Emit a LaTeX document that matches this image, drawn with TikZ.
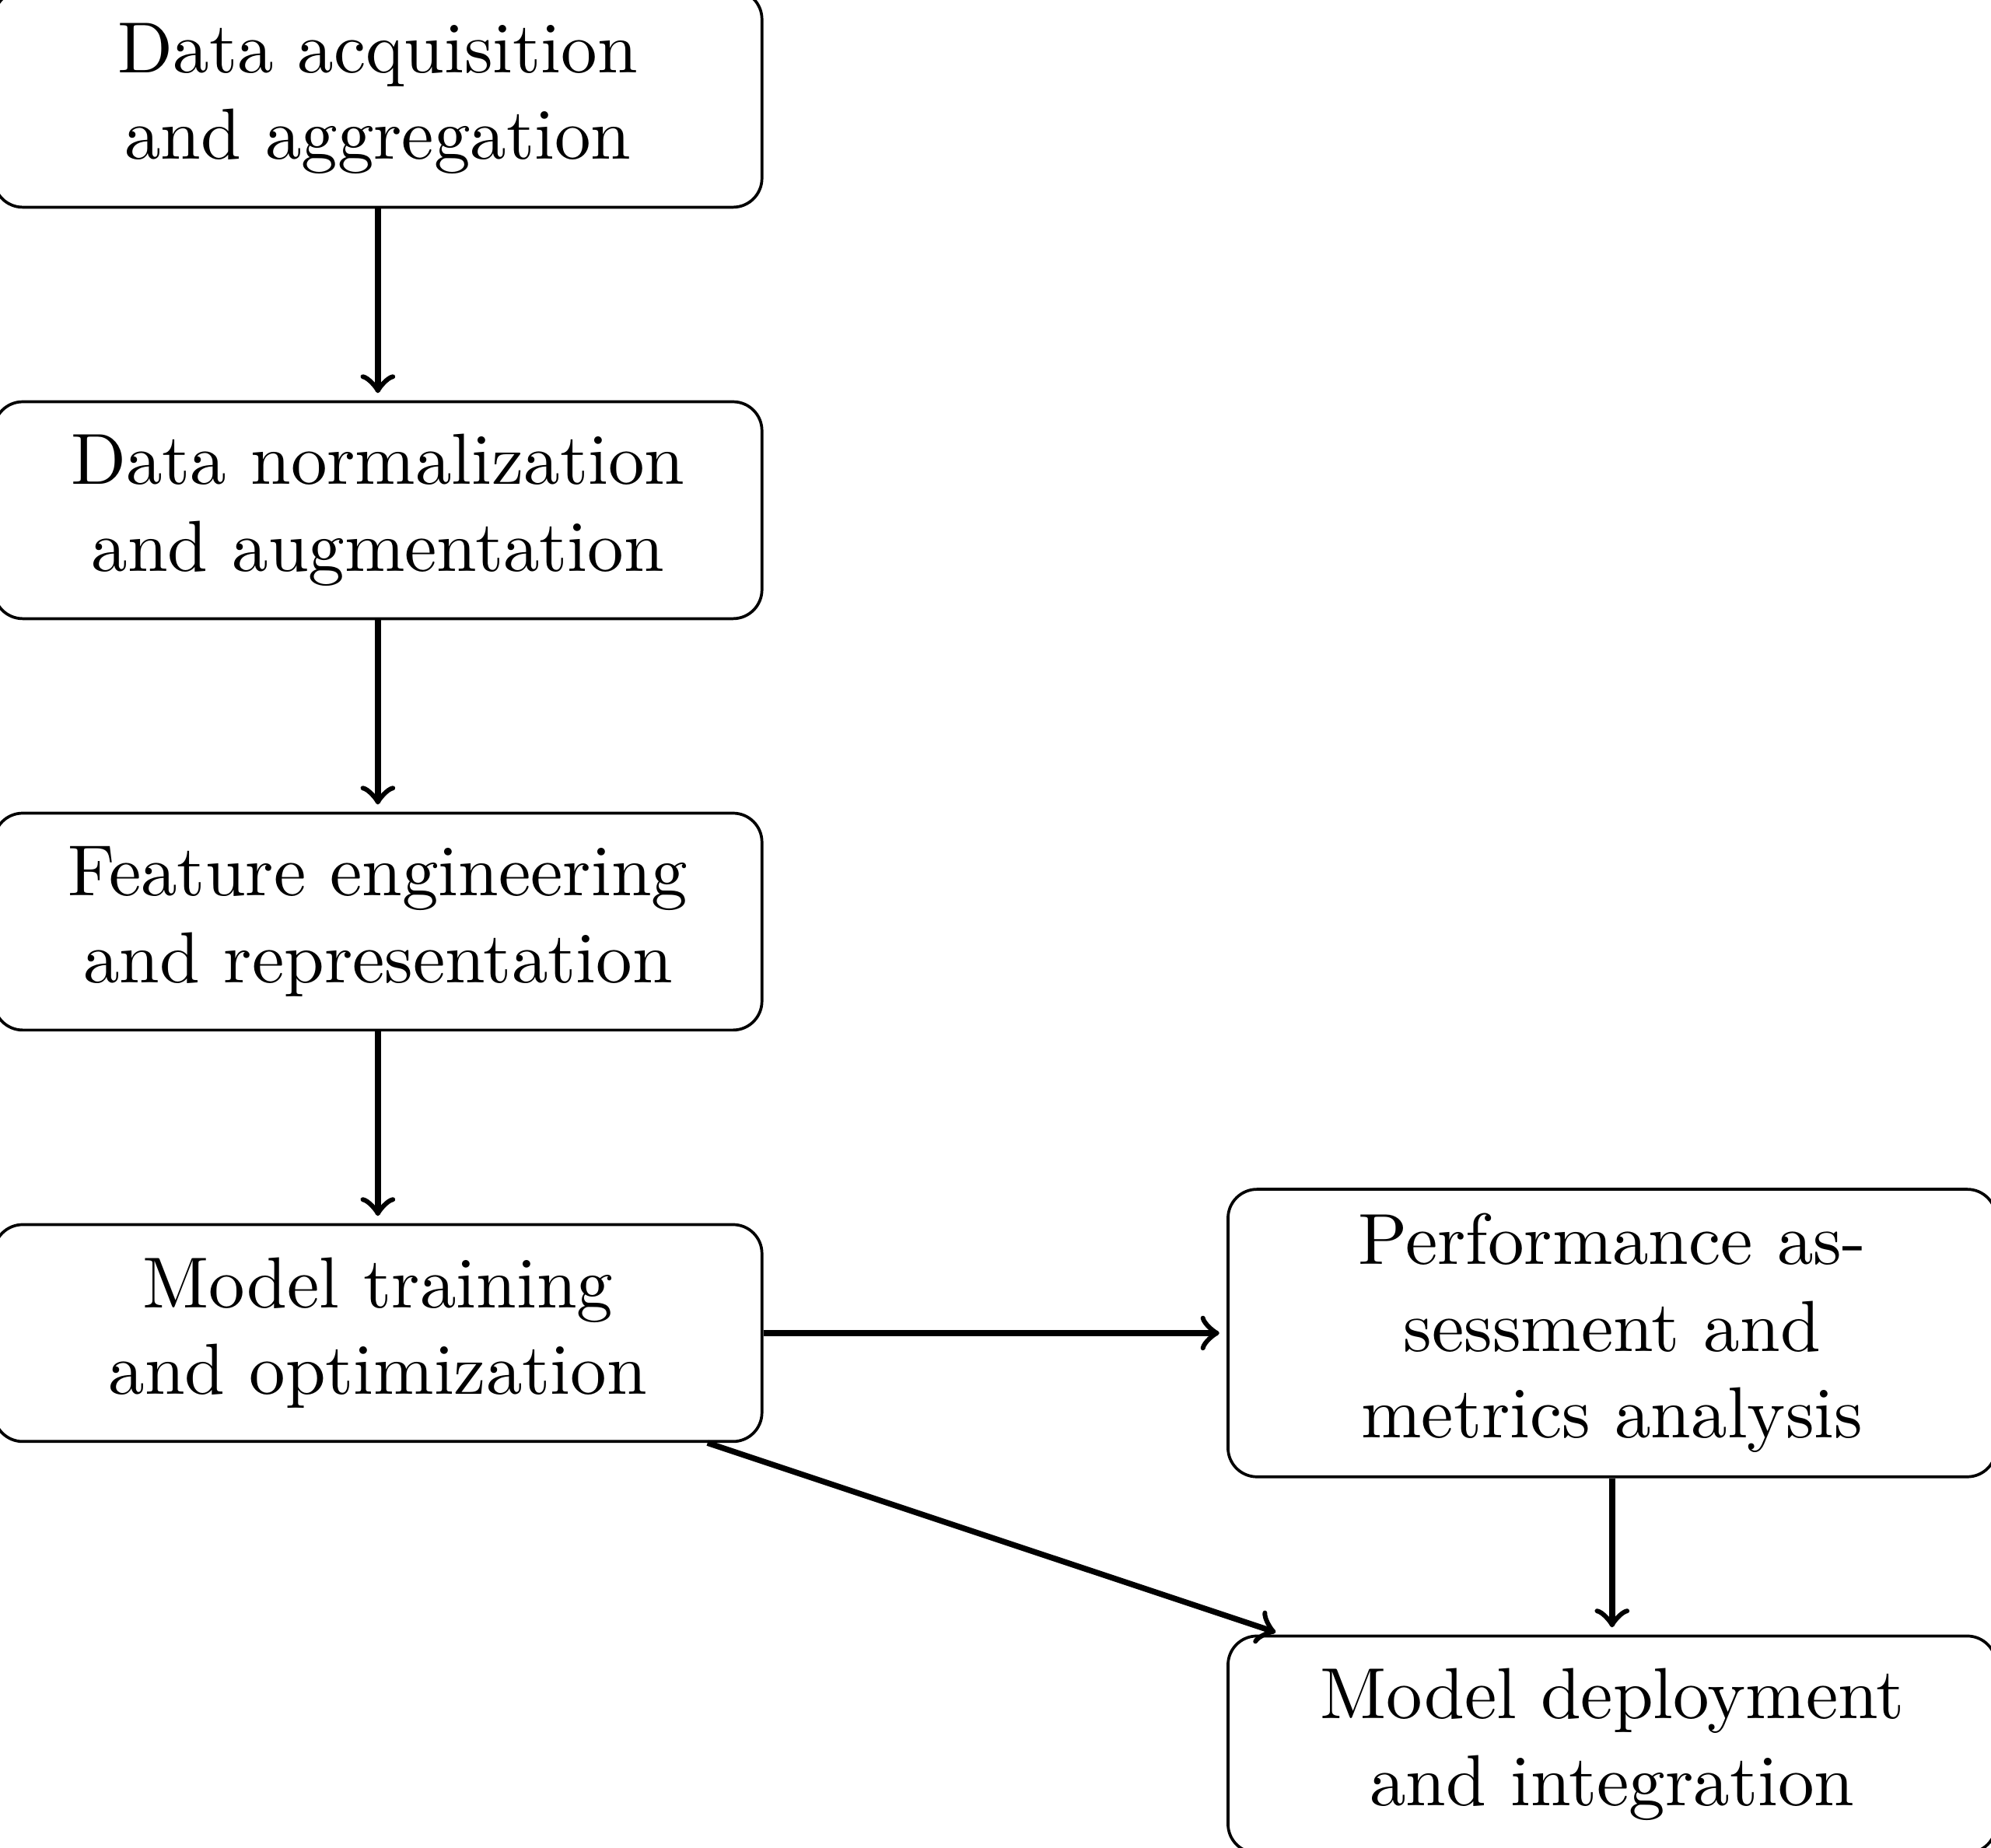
\documentclass[tikz,border=0pt]{standalone}
\usetikzlibrary{positioning}
\tikzset{
  stage/.style={draw, rounded corners=4pt, text width=3.5cm, align=center, minimum height=30pt, inner sep=0.3333em},
  flow/.style={->, thick, shorten >=1pt}
}
\begin{document}
\begin{tikzpicture}
\useasboundingbox (-1.837,0.480) rectangle (7.842,-8.503);
\node[stage] (acq) at (0,0) {Data acquisition\\and aggregation};
\node[stage] (norm) at (0,-2) {Data normalization\\and augmentation};
\node[stage] (feat) at (0,-4) {Feature engineering\\and representation};
\node[stage] (train) at (0,-6) {Model training\\and optimization};
\node[stage] (perf) at (6,-6) {Performance as-\\sessment and\\metrics analysis};
\node[stage] (dep) at (6,-8) {Model deployment\\and integration};
\draw[flow] (acq) -- (norm);
\draw[flow] (norm) -- (feat);
\draw[flow] (feat) -- (train);
\draw[flow] (train) -- (perf);
\draw[flow] (train) -- (dep);
\draw[flow] (perf) -- (dep);
\end{tikzpicture}
\end{document}
